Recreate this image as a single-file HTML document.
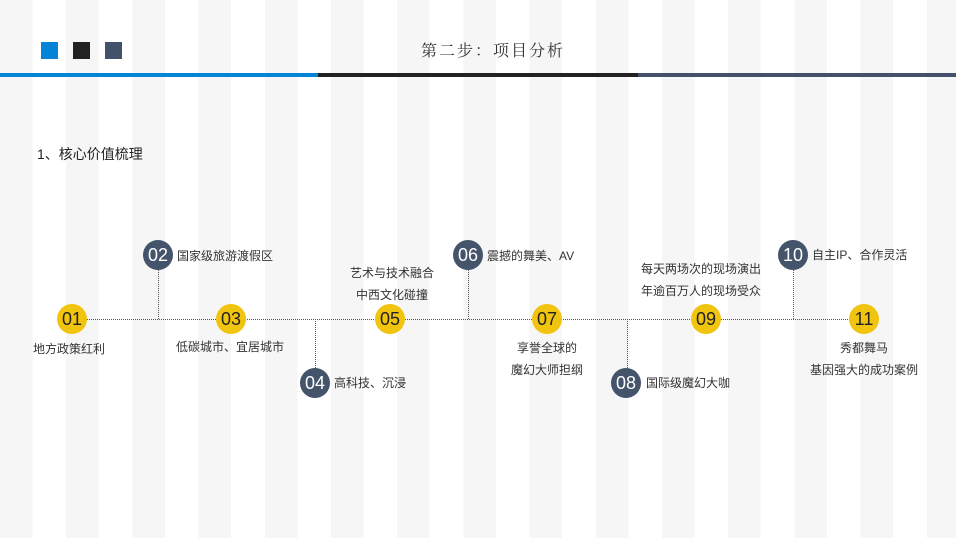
<!DOCTYPE html>
<html><head><meta charset="utf-8"><style>
*{margin:0;padding:0}
body{width:956px;height:538px;overflow:hidden;position:relative;font-family:"Liberation Sans","Noto Sans CJK SC",sans-serif;color:#333;
background:repeating-linear-gradient(90deg,#f6f6f6 0,#f6f6f6 32.5px,#fff 32.5px,#fff 66.2px);}
.a{position:absolute}
.sq{position:absolute;top:42px;width:17px;height:17px}
.c{position:absolute;width:30px;height:30px;border-radius:50%;text-align:center;line-height:30px;font-size:18px}
.y{background:#f1c40f;color:#222}
.s{background:#44546a;color:#fff}
.t{position:absolute;font-size:12px;line-height:22px;white-space:nowrap;color:#333}
.tc{transform:translateX(-50%);text-align:center}
.h{position:absolute;top:319px;height:0;border-top:1px dotted #555}
.v{position:absolute;width:0;border-left:1px dotted #555}
</style></head><body>
<div class="sq" style="left:41px;background:#0384d6"></div>
<div class="sq" style="left:73px;background:#222"></div>
<div class="sq" style="left:105px;background:#43516a"></div>
<div class="a" style="left:421px;top:38px;font-family:'Noto Serif CJK SC',serif;font-size:16px;color:#333;letter-spacing:2px">第二步：项目分析</div>
<div class="a" style="left:0;top:73px;width:318px;height:4px;background:#0384d6"></div>
<div class="a" style="left:318px;top:73px;width:320px;height:4px;background:#222"></div>
<div class="a" style="left:638px;top:73px;width:318px;height:4px;background:#43516a"></div>
<div class="a" style="left:37px;top:144px;font-size:14px;color:#222">1、核心价值梳理</div>

<div class="h" style="left:72px;width:792px"></div>
<div class="v" style="left:158px;top:255px;height:64px"></div>
<div class="v" style="left:315px;top:319px;height:63px"></div>
<div class="v" style="left:468px;top:255px;height:64px"></div>
<div class="v" style="left:627px;top:319px;height:63px"></div>
<div class="v" style="left:793px;top:255px;height:64px"></div>

<div class="c y" style="left:57px;top:304px">01</div>
<div class="c s" style="left:143px;top:240px">02</div>
<div class="c y" style="left:216px;top:304px">03</div>
<div class="c s" style="left:300px;top:368px">04</div>
<div class="c y" style="left:375px;top:304px">05</div>
<div class="c s" style="left:453px;top:240px">06</div>
<div class="c y" style="left:532px;top:304px">07</div>
<div class="c s" style="left:611px;top:368px">08</div>
<div class="c y" style="left:691px;top:304px">09</div>
<div class="c s" style="left:778px;top:240px">10</div>
<div class="c y" style="left:849px;top:304px">11</div>

<div class="t tc" style="left:69px;top:338px">地方政策红利</div>
<div class="t" style="left:177px;top:245px">国家级旅游渡假区</div>
<div class="t tc" style="left:230px;top:336px">低碳城市、宜居城市</div>
<div class="t" style="left:334px;top:372px">高科技、沉浸</div>
<div class="t tc" style="left:392px;top:262px">艺术与技术融合<br>中西文化碰撞</div>
<div class="t" style="left:487px;top:245px">震撼的舞美、AV</div>
<div class="t tc" style="left:547px;top:337px">享誉全球的<br>魔幻大师担纲</div>
<div class="t" style="left:646px;top:372px">国际级魔幻大咖</div>
<div class="t tc" style="left:701px;top:258px">每天两场次的现场演出<br>年逾百万人的现场受众</div>
<div class="t" style="left:812px;top:244px">自主IP、合作灵活</div>
<div class="t tc" style="left:864px;top:337px">秀都舞马<br>基因强大的成功案例</div>
</body></html>
